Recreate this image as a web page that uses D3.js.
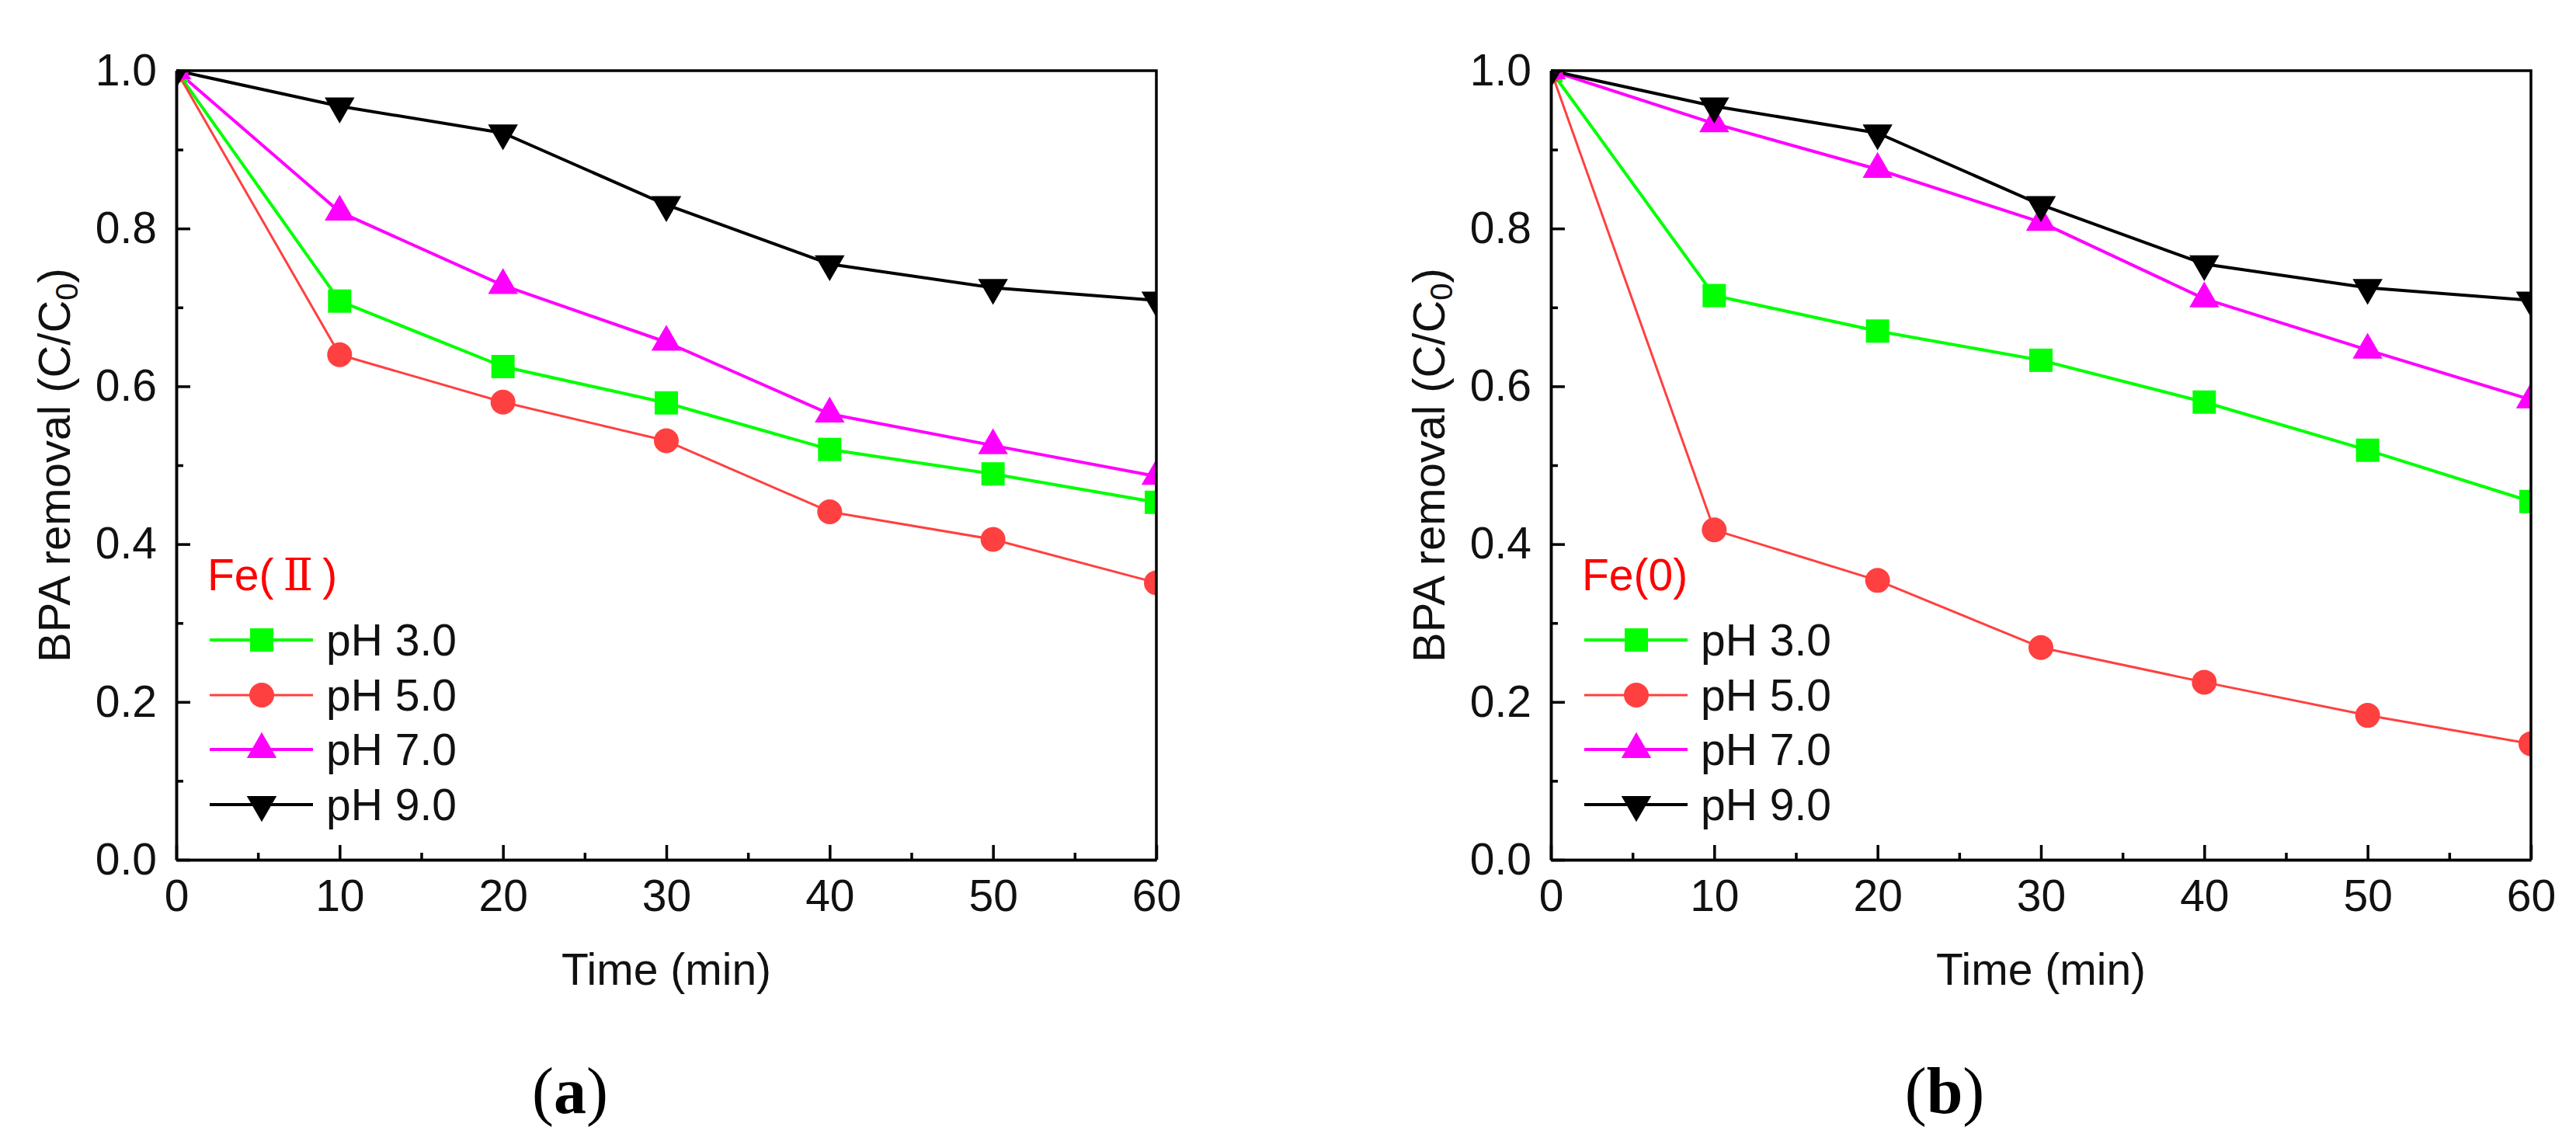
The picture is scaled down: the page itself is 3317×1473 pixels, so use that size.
<!DOCTYPE html>
<html>
<head>
<meta charset="utf-8">
<script src="https://cdn.jsdelivr.net/npm/d3@7"></script>
<style>
  body { margin: 0; background: #fff; }
  text { font-family: "Liberation Sans", Arial, sans-serif; }
</style>
</head>
<body>
<svg id="chart"></svg>
<script>
// sampling times (min)
const times = [0, 10, 20, 30, 40, 50, 60];
const seriesNames = ["pH 3.0", "pH 5.0", "pH 7.0", "pH 9.0"];

// panel (a) Fe(II), C/C0
const feII_pH3 = [1.0, 0.708, 0.625, 0.579, 0.520, 0.489, 0.453];
const feII_pH5 = [1.0, 0.640, 0.580, 0.531, 0.441, 0.406, 0.351];
const feII_pH7 = [1.0, 0.821, 0.728, 0.656, 0.565, 0.525, 0.486];
const feII_pH9 = [1.0, 0.955, 0.921, 0.830, 0.755, 0.725, 0.709];

// panel (b) Fe(0), C/C0
const fe0_pH3 = [1.0, 0.715, 0.670, 0.633, 0.580, 0.519, 0.454];
const fe0_pH5 = [1.0, 0.418, 0.354, 0.269, 0.225, 0.183, 0.147];
const fe0_pH7 = [1.0, 0.933, 0.875, 0.808, 0.711, 0.646, 0.583];
const fe0_pH9 = [1.0, 0.955, 0.921, 0.830, 0.755, 0.725, 0.709];

// axis ticks
const xMajor = [0, 10, 20, 30, 40, 50, 60];
const xMinor = [5, 15, 25, 35, 45, 55];
const yMajor = [0, 0.2, 0.4, 0.6, 0.8, 1.0];
const yMinor = [0.1, 0.3, 0.5, 0.7, 0.9];

// look of each series
const styles = [
  { color: "#00ff00", width: 4, shape: "square" },
  { color: "#ff4040", width: 3, shape: "circle" },
  { color: "#ff00ff", width: 4, shape: "up" },
  { color: "#000000", width: 4, shape: "down" }
];

const svgWidth = 3317, svgHeight = 1473;
let svg = d3.select("#chart")
  .attr("width", svgWidth)
  .attr("height", svgHeight);

svg.append("rect")
  .attr("width", svgWidth)
  .attr("height", svgHeight)
  .attr("fill", "#fff");

//symbol path for each marker shape
function markerPath(shape) {
  if (shape === "square") return d3.symbol(d3.symbolSquare, 900)();
  if (shape === "circle") return d3.symbol(d3.symbolCircle, 804)();
  return d3.symbol(d3.symbolTriangle, 640)();
}

function drawMarker(g, shape, color, x, y) {
  g.append("path")
    .attr("d", markerPath(shape))
    .attr("fill", color)
    .attr("transform", `translate(${x},${y})` + (shape === "down" ? " rotate(180)" : ""));
}

function createPanel(idx, left, series, label, letter) {
  let width = 1262, height = 1016, top = 91;

  let xScale = d3.scaleLinear().domain([0, 60]).range([0, width]);
  let yScale = d3.scaleLinear().domain([0, 1]).range([height, 0]);

  let g = svg.append("g")
    .attr("transform", `translate(${left},${top})`);

  // clip markers on the frame
  svg.append("clipPath")
    .attr("id", "clip" + idx)
    .append("rect")
    .attr("width", width)
    .attr("height", height);

  //series lines and markers
  let line = d3.line()
    .x((d, i) => xScale(times[i]))
    .y(d => yScale(d));

  series.forEach((values, s) => {
    g.append("path")
      .attr("d", line(values))
      .attr("fill", "none")
      .attr("stroke", styles[s].color)
      .attr("stroke-width", styles[s].width)
      .attr("stroke-linejoin", "round");
  });

  let marks = g.append("g").attr("clip-path", `url(#clip${idx})`);
  series.forEach((values, s) => {
    values.forEach((v, i) => {
      drawMarker(marks, styles[s].shape, styles[s].color, xScale(times[i]), yScale(v));
    });
  });

  //axes with inward ticks
  g.append("g")
    .attr("transform", `translate(0,${height})`)
    .call(d3.axisBottom(xScale).tickValues(xMajor).tickSizeInner(-19).tickSizeOuter(0).tickPadding(26));
  g.append("g")
    .attr("transform", `translate(0,${height})`)
    .call(d3.axisBottom(xScale).tickValues(xMinor).tickSizeInner(-9).tickSizeOuter(0).tickFormat(""));

  g.append("g")
    .call(d3.axisLeft(yScale).tickValues(yMajor).tickSizeInner(-18).tickSizeOuter(0).tickPadding(25).tickFormat(d3.format(".1f")));
  g.append("g")
    .call(d3.axisLeft(yScale).tickValues(yMinor).tickSizeInner(-9).tickSizeOuter(0).tickFormat(""));

  g.selectAll(".domain, .tick line")
    .attr("stroke", "#000")
    .attr("stroke-width", 3.5);
  g.selectAll(".tick text")
    .attr("font-size", "57px")
    .style("font-family", "'Liberation Sans', Arial, sans-serif")
    .attr("fill", "#111");

  //top and right frame
  g.append("path")
    .attr("d", `M0,0H${width}V${height}`)
    .attr("fill", "none")
    .attr("stroke", "#000")
    .attr("stroke-width", 3.5);

  //axis titles
  g.append("text")
    .attr("x", width / 2)
    .attr("y", 1268 - top)
    .attr("text-anchor", "middle")
    .attr("font-size", "57px")
    .attr("fill", "#111")
    .text("Time (min)");

  let yTitle = g.append("text")
    .attr("transform", `translate(${90 - 227},${height / 2}) rotate(-90)`)
    .attr("text-anchor", "middle")
    .attr("font-size", "58px")
    .attr("fill", "#111");
  yTitle.append("tspan").text("BPA removal (C/C");
  yTitle.append("tspan").attr("font-size", "40px").attr("dy", 10).text("0");
  yTitle.append("tspan").attr("dy", -10).text(")");

  //legend
  let lg = g.append("g");
  let feText = lg.append("text")
    .attr("x", 40)
    .attr("y", 760 - top)
    .attr("font-size", "57px")
    .attr("fill", "#ff0000");
  label.forEach(part => {
    let t = feText.append("tspan").text(part.text);
    if (part.serif) {
      t.style("font-family", "'Liberation Serif', 'DejaVu Serif', serif")
        .attr("dx", 12);
    }
    if (part.gap) t.attr("dx", part.gap);
  });

  let rowY = [824, 895, 965, 1036];
  seriesNames.forEach((name, s) => {
    let y = rowY[s] - top;
    lg.append("line")
      .attr("x1", 43).attr("x2", 176)
      .attr("y1", y).attr("y2", y)
      .attr("stroke", styles[s].color)
      .attr("stroke-width", styles[s].width);
    drawMarker(lg, styles[s].shape, styles[s].color, 110, y);
    lg.append("text")
      .attr("x", 193)
      .attr("y", y + 20)
      .attr("font-size", "57px")
      .attr("fill", "#111")
      .text(name);
  });

  //panel letter
  let letterText = g.append("text")
    .attr("x", 734 - 227)
    .attr("y", 1433 - top)
    .attr("text-anchor", "middle")
    .attr("font-size", "84px")
    .style("font-family", "'Liberation Serif', 'DejaVu Serif', serif")
    .attr("fill", "#000");
  letterText.append("tspan").text("(");
  letterText.append("tspan").attr("font-weight", "bold").text(letter);
  letterText.append("tspan").text(")");
}

createPanel(0, 227, [feII_pH3, feII_pH5, feII_pH7, feII_pH9],
  [{ text: "Fe(" }, { text: "Ⅱ", serif: true }, { text: ")", gap: 12 }], "a");
createPanel(1, 1997, [fe0_pH3, fe0_pH5, fe0_pH7, fe0_pH9],
  [{ text: "Fe(0)" }], "b");
</script>
</body>
</html>
